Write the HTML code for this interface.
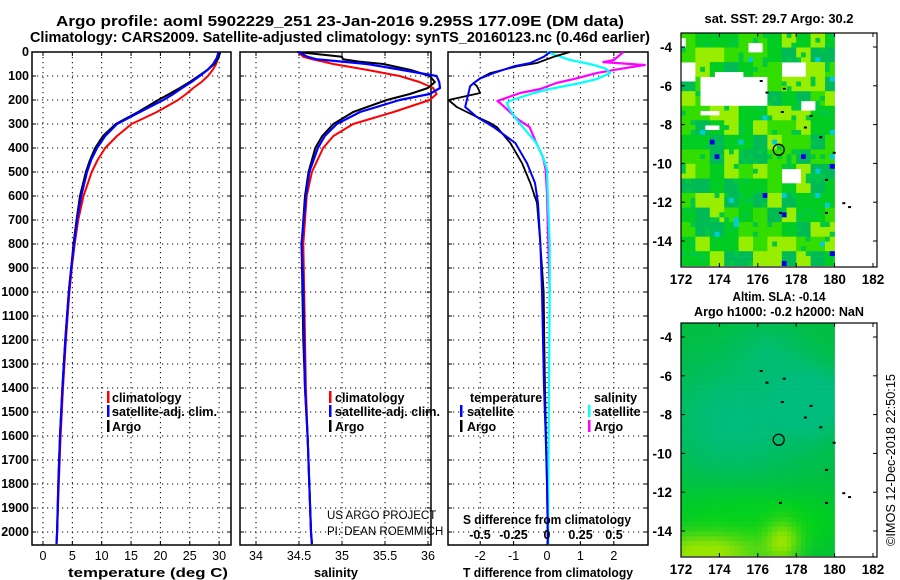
<!DOCTYPE html>
<html><head><meta charset="utf-8"><style>
html,body{margin:0;padding:0;background:#fff;width:900px;height:580px;overflow:hidden}
svg{display:block;font-family:"Liberation Sans",sans-serif}
</style></head><body>
<svg id="s" width="900" height="580" viewBox="0 0 900 580" xmlns="http://www.w3.org/2000/svg">
<text x="340" y="26" text-anchor="middle" font-size="14.5" font-weight="bold" textLength="568" lengthAdjust="spacingAndGlyphs">Argo profile: aoml 5902229_251 23-Jan-2016 9.295S 177.09E (DM data)</text>
<text x="340" y="42" text-anchor="middle" font-size="14.5" font-weight="bold" textLength="620" lengthAdjust="spacingAndGlyphs">Climatology: CARS2009. Satellite-adjusted climatology: synTS_20160123.nc (0.46d earlier)</text>
<g id="g"></g>
</svg>
<script>
// ---- data ----
const depthTicks=[0,100,200,300,400,500,600,700,800,900,1000,1100,1200,1300,1400,1500,1600,1700,1800,1900,2000];
const tempTicks=[0,5,10,15,20,25,30];
const salTicks=[34,34.5,35,35.5,36];
const tdTicks=[-2,-1,0,1,2];
const sdTicks=[-0.5,-0.25,0,0.25,0.5];
const tDepth=[0,25,50,75,100,125,150,175,200,250,300,350,400,450,500,600,700,800,900,1000,1200,1400,1600,1800,2000,2050];
const tClim=[30.0,29.8,29.5,28.9,28.1,27.0,25.6,24.4,23.0,19.4,15.1,12.6,10.6,9.3,8.3,6.9,6.0,5.4,4.9,4.5,3.9,3.4,3.0,2.7,2.4,2.3];
const tSat=[29.9,29.6,29.0,28.0,26.7,25.3,23.7,22.2,20.5,16.5,12.6,10.6,9.2,8.2,7.5,6.5,5.8,5.3,4.8,4.4,3.8,3.3,2.9,2.6,2.4,2.3];
const tArgo=[30.2,29.9,29.2,28.0,26.5,25.0,23.3,21.5,19.6,16.2,12.4,10.2,8.9,8.0,7.3,6.3,5.7,5.2,4.8,4.4,3.8,3.3,2.9,2.6,2.4,2.3];
const sDepth=[0,20,30,40,50,75,100,125,150,175,200,250,300,350,400,500,600,800,1000,1200,1400,1600,1800,2000,2050];
const sClim=[34.49,34.55,34.65,34.78,34.9,35.3,35.67,35.9,36.06,36.1,36.02,35.6,35.13,34.9,34.78,34.65,34.59,34.55,34.56,34.57,34.58,34.6,34.62,34.64,34.65];
const sSat=[34.49,34.6,34.7,35.0,35.29,35.7,36.1,36.13,36.14,36.02,35.67,35.21,34.94,34.8,34.72,34.62,34.58,34.53,34.55,34.56,34.57,34.6,34.62,34.64,34.65];
const sArgo=[34.48,35.0,35.01,35.2,35.48,35.8,36.02,36.08,36.0,35.79,35.52,35.13,34.9,34.77,34.69,34.61,34.57,34.53,34.54,34.55,34.57,34.6,34.62,34.64,34.65];
const dDepth=[0,20,46,60,88,110,130,142,171,200,229,271,296,313,379,463,546,629,796,1000,1200,1400,1600,1800,2000,2050];
const dtArgo=[0.69,0.2,-0.3,-0.9,-1.7,-2.0,-2.2,-2.1,-2.0,-2.95,-2.7,-2.1,-1.7,-1.5,-1.1,-0.75,-0.5,-0.3,-0.2,-0.1,-0.08,-0.06,-0.03,0,0.02,0.02];
const dtSat=[0.1,-0.1,-0.5,-1.0,-1.6,-2.0,-2.2,-2.3,-2.35,-2.4,-2.45,-2.1,-1.8,-1.6,-0.95,-0.6,-0.36,-0.27,-0.2,-0.15,-0.12,-0.09,-0.04,0,0.02,0.02];
const sdDepth=[0,33,42,54,70,88,113,129,154,171,204,213,238,279,313,379,438,492,588,800,1000,1400,1800,2050];
const dsSat=[0.0,0.17,0.25,0.35,0.44,0.47,0.37,0.25,0.02,-0.1,-0.28,-0.3,-0.28,-0.23,-0.18,-0.08,-0.03,0,0.005,0.02,0.02,0.015,0.01,0.01];
const dsArgo=[0.57,0.5,0.42,0.73,0.55,0.37,0.2,0.07,-0.05,-0.2,-0.37,-0.35,-0.3,-0.22,-0.13,-0.08,-0.03,-0.01,0,0.01,0.02,null,null,null];

// ---- helpers ----
const NS="http://www.w3.org/2000/svg";
const G=document.getElementById('g');
function el(t,a,p){const e=document.createElementNS(NS,t);for(const k in a)e.setAttribute(k,a[k]);(p||G).appendChild(e);return e;}
const Y0=52,PXD=0.24,YB=545;
const yD=d=>Y0+d*PXD;
const xT=v=>43+5.87*v;
const xS=v=>256+86*(v-34);
const xDT=v=>547+33.4*v;
const xDS=v=>547+134*v;

function panel(name,x0,x1,xf,ticks,vgrid,showY){
  const g=el('g',{});
  
  
  depthTicks.forEach(d=>{el('line',{x1:x0,x2:x1,y1:yD(d),y2:yD(d),stroke:'#000','stroke-width':1,'stroke-dasharray':'1.2,3.8'},g);
    el('line',{x1:x0,x2:x0+4,y1:yD(d),y2:yD(d),stroke:'#000'},g);el('line',{x1:x1-4,x2:x1,y1:yD(d),y2:yD(d),stroke:'#000'},g);});
  vgrid.forEach(v=>{el('line',{x1:xf(v),x2:xf(v),y1:Y0,y2:YB,stroke:'#000','stroke-width':1,'stroke-dasharray':'1.2,3.8'},g);
    el('line',{x1:xf(v),x2:xf(v),y1:YB-4,y2:YB,stroke:'#000'},g);el('line',{x1:xf(v),x2:xf(v),y1:Y0,y2:Y0+4,stroke:'#000'},g);});
  el('rect',{x:x0,y:Y0,width:x1-x0,height:YB-Y0,fill:'none',stroke:'#000','stroke-width':1.5},g);
  ticks.forEach(v=>{const t=el('text',{x:xf(v),y:560,'text-anchor':'middle','font-size':12.5},g);t.textContent=String(v);
    });
  if(showY)depthTicks.forEach(d=>{const t=el('text',{x:29,y:yD(d)+4,'text-anchor':'end','font-size':12.5,'font-weight':'bold'},g);t.textContent=String(d);
    });
  return g;
}
function line(depths,vals,xf,col,w,name){
  let p='';depths.forEach((d,i)=>{if(vals[i]==null)return;p+=(p?'L':'M')+xf(vals[i]).toFixed(1)+','+yD(d).toFixed(1);});
  const e=el('path',{d:p,fill:'none',stroke:col,'stroke-width':w,'stroke-linejoin':'round'});
  
}
function txt(x,y,s,sz,b,name,anchor,len){const a={x:x,y:y,'font-size':sz,'font-weight':b?'bold':'normal','text-anchor':anchor||'start'};
  if(len){a.textLength=len;a.lengthAdjust='spacingAndGlyphs';}
  const t=el('text',a);t.textContent=s;
  return t;}
function legBar(x,y,col){const e=el('rect',{x:x,y:y-10,width:2.5,height:12,fill:col});}

// temperature panel
panel('temperature-panel',32,231,xT,tempTicks,tempTicks,true);
line(tDepth,tClim,xT,'#f00',2,'temp-climatology-line');
line(tDepth,tArgo,xT,'#000',2,'temp-argo-line');
line(tDepth,tSat,xT,'#00f',2.2,'temp-satellite-line');
txt(148,577,'temperature (deg C)',12.5,true,'x-axis-title','middle',160);
legBar(107,401,'#f00');txt(112,402,'climatology',12.5,true,'legend-entry');
legBar(107,415,'#00f');txt(112,416,'satellite-adj. clim.',12.5,true,'legend-entry','start',105);
legBar(107,430,'#000');txt(112,431,'Argo',12.5,true,'legend-entry');

// salinity panel
panel('salinity-panel',240,431,xS,salTicks,salTicks,false);
line(sDepth,sClim,xS,'#f00',2,'sal-climatology-line');
line(sDepth,sArgo,xS,'#000',2,'sal-argo-line');
line(sDepth,sSat,xS,'#00f',2.2,'sal-satellite-line');
txt(336,577,'salinity',12.5,true,'x-axis-title','middle',44);
legBar(329,401,'#f00');txt(335,402,'climatology',12.5,true,'legend-entry');
legBar(329,415,'#00f');txt(335,416,'satellite-adj. clim.',12.5,true,'legend-entry','start',105);
legBar(329,430,'#000');txt(335,431,'Argo',12.5,true,'legend-entry');
txt(327,519,'US ARGO PROJECT',11.5,false,'credit-project');
txt(327,535,'PI: DEAN ROEMMICH',11.5,false,'credit-pi');

// difference panel
panel('difference-panel',448,648,xDT,tdTicks,tdTicks,false);
line(sdDepth,dsArgo,xDS,'#f0f',2.2,'sdiff-argo-line');
line(sdDepth,dsSat,xDS,'#0ff',2.2,'sdiff-satellite-line');
line(dDepth,dtArgo,xDT,'#000',1.8,'tdiff-argo-line');
line(dDepth,dtSat,xDT,'#00f',2,'tdiff-satellite-line');
txt(548,577,'T difference from climatology',12.5,true,'x-axis-title','middle',170);
txt(547,524,'S difference from climatology',12.5,true,'top-axis-title','middle',168);
sdTicks.forEach(v=>txt(xDS(v),539,String(v),12.5,true,'s-tick-label','middle'));
txt(470,402,'temperature',12.5,true,'legend-title');
legBar(460,415,'#00f');txt(467,416,'satellite',12.5,true,'legend-entry');
legBar(460,430,'#000');txt(467,431,'Argo',12.5,true,'legend-entry');
txt(594,402,'salinity',12.5,true,'legend-title');
legBar(588,415,'#0ff');txt(594,416,'satellite',12.5,true,'legend-entry');
legBar(588,430,'#f0f');txt(594,431,'Argo',12.5,true,'legend-entry');

// ---- maps ----
const mapLon=[172,174,176,178,180,182];
const mapLat=[-4,-6,-8,-10,-12,-14];
function hash(i,j,s){let h=(i*374761393+j*668265263+s*982451653)|0;h=(h^(h>>>13))*1274126177|0;return ((h^(h>>>16))>>>0)/4294967296;}
const gaps=[[681,694,63,80],[702,767,77,103],[712,742,70,80],[780,807,60,77],[800,813,100,110],[700,717,108,115],[707,718,126,130],[780,800,167,182],[681,686,38,45],[746,760,44,50]];
function gs(x,y,cx,cy,sx,sy){return Math.exp(-((x-cx)*(x-cx)/(2*sx*sx)+(y-cy)*(y-cy)/(2*sy*sy)));}
function map(name,top,title1,title2,kind){
  const g=el('g',{});
  const x0=681,x1=877,yt=top,yb=top+234;
  const lx=v=>681+19.2*(v-172), ly=v=>yt+14+19.4*(-4-v);
  const cw=4.8,ch=4.85,nx=Math.round((lx(180)-x0)/cw),ny=Math.round((yb-yt)/ch);
  for(let j=0;j<ny;j++)for(let i=0;i<nx;i++){
    let c;
    const px=x0+i*cw+2,py=yt+j*ch+2;
    if(kind==='sst'){
      const bi=Math.floor(i/3),bj=Math.floor(j/3),r=hash(bi,bj,1),r2=hash(i,j,2);
      if(gaps.some(q=>px>=q[0]&&px<q[1]&&py>=q[2]&&py<q[3]))continue;
      if(r2<0.004)c='#0000ee';else if(r2<0.018)c='#00ccdd';
      else if(r<0.25)c='#99ee00';else if(r<0.45)c='#00bb55';else if(r<0.7)c='#00cc22';else c='#33dd00';
      if(r2>0.92)c='#00c844';
    } else {
      const yy=py-top+33;
      let t=Math.min(1,gs(px,yy,735,130,55,45)*1.0+gs(px,yy,815,110,25,25)*1.1+gs(px,yy,770,60,25,20)*0.5);
      let yl=Math.min(1,gs(px,yy,705,262,40,14)*1.1+gs(px,yy,782,250,12,14)*0.9);
      let br=Math.min(1,gs(px,yy,730,225,60,25)+gs(px,yy,800,235,40,20)*0.6);
      let r=0,gg=190,b=60;
      r=r*(1-t); gg=gg+(188-gg)*t; b=b+(125-b)*t;
      gg=gg+(210-gg)*br*(1-t); b=b*(1-0.6*br*(1-t));
      r=r+(150-r)*yl; gg=gg+(228-gg)*yl; b=b*(1-yl);
      c='rgb('+Math.round(r)+','+Math.round(gg)+','+Math.round(b)+')';
    }
    el('rect',{x:(x0+i*cw).toFixed(1),y:(yt+j*ch).toFixed(1),width:cw+0.3,height:ch+0.3,fill:c},g);
  }
  el('rect',{x:x0,y:yt,width:x1-x0,height:yb-yt,fill:'none',stroke:'#000','stroke-width':1.2},g);
  mapLon.forEach(v=>{el('line',{x1:lx(v),x2:lx(v),y1:yb,y2:yb-4,stroke:'#000'},g);el('line',{x1:lx(v),x2:lx(v),y1:yt,y2:yt+4,stroke:'#000'},g);
    txt(lx(v),yb+17,String(v),13.5,true,'map-lon-label','middle');});
  mapLat.forEach(v=>{el('line',{x1:x0,x2:x0+4,y1:ly(v),y2:ly(v),stroke:'#000'},g);el('line',{x1:x1-4,x2:x1,y1:ly(v),y2:ly(v),stroke:'#000'},g);
    txt(672,ly(v)+5,String(v),13.5,true,'map-lat-label','end');});
  [[176.1,-5.7],[176.4,-6.3],[177.3,-6.1],[177.2,-7.3],[178.7,-7.5],[178.4,-8.1],[179.2,-8.6],[179.9,-9.4],[179.5,-10.8],[177.1,-12.5],[179.5,-12.5],[180.4,-12.0],[180.7,-12.2]].forEach(p=>{
    el('rect',{x:lx(p[0]),y:ly(p[1]),width:3,height:2,fill:'#000'},g);});
  const c=el('circle',{cx:lx(177.09),cy:ly(-9.295),r:5.5,fill:'none',stroke:'#000','stroke-width':1.3},g);
  
  if(title1)txt(779,title2?top-22:top-10,title1,12.5,true,'map-title','middle',title2?93:149);
  if(title2)txt(779,top-7,title2,12.5,true,'map-subtitle','middle',170);
}
map('sst-map',33,'sat. SST: 29.7 Argo: 30.2',null,'sst');
map('sla-map',323,'Altim. SLA: -0.14','Argo h1000: -0.2 h2000: NaN','sla');
const cp=txt(0,0,'©IMOS 12-Dec-2018 22:50:15',12.5,false,'copyright','start',172);
cp.setAttribute('transform','translate(895,546) rotate(-90)');
</script>
</body></html>
